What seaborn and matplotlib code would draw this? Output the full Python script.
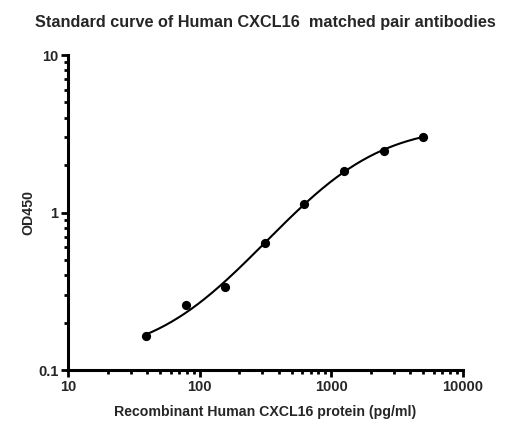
import numpy as np
import pandas as pd
import matplotlib
matplotlib.use("Agg")
import matplotlib.pyplot as plt
import matplotlib.ticker as mticker
import seaborn as sns

# standard points
conc = [39.06, 78.13, 156.25, 312.5, 625, 1250, 2500, 5000]
od450 = [0.165, 0.259, 0.335, 0.64, 1.127, 1.84, 2.47, 3.03]

x_ticks = [10, 100, 1000, 10000]
x_tick_labels = ["10", "100", "1000", "10000"]
y_ticks = [0.1, 1, 10]
y_tick_labels = ["0.1", "1", "10"]


def fit_4pl(x, y):
    # grid over EC50 and hill slope, bottom/top solved by least squares
    x = np.asarray(x, float)
    y = np.asarray(y, float)
    logc = np.linspace(2.0, 4.5, 301)[:, None, None]
    b = np.linspace(0.5, 3.0, 301)[None, :, None]
    g = 1.0 / (1.0 + (x[None, None, :] / 10 ** logc) ** b)
    gm = g.mean(axis=2, keepdims=True)
    ym = y.mean()
    k = ((g - gm) * (y - ym)).sum(axis=2, keepdims=True) / ((g - gm) ** 2).sum(axis=2, keepdims=True)
    top = ym - k * gm
    sse = ((top + k * g - y) ** 2).sum(axis=2)
    i, j = np.unravel_index(np.argmin(sse), sse.shape)
    c_best = 10 ** logc[i, 0, 0]
    b_best = b[0, j, 0]
    top_best = top[i, j, 0]
    bottom_best = top_best + k[i, j, 0]
    return bottom_best, top_best, c_best, b_best


def main():
    sns.set_theme(style="ticks")
    plt.rcParams["font.family"] = ["Liberation Sans", "DejaVu Sans"]
    plt.rcParams["font.weight"] = "bold"

    df = pd.DataFrame({"conc": conc, "od": od450})

    bottom, top, ec50, hill = fit_4pl(conc, od450)
    xs = np.logspace(np.log10(conc[0]), np.log10(conc[-1]), 300)
    curve = pd.DataFrame({"conc": xs,
                          "od": top + (bottom - top) / (1 + (xs / ec50) ** hill)})

    fig = plt.figure(figsize=(5.12, 4.37), dpi=100)
    ax = fig.add_axes([0.1334, 0.1533, 0.7703, 0.7208])

    sns.lineplot(data=curve, x="conc", y="od", ax=ax, color="black", linewidth=1.5)
    sns.scatterplot(data=df, x="conc", y="od", ax=ax, color="black", s=44,
                    edgecolor="black", linewidth=0, zorder=3)

    ax.set_xscale("log")
    ax.set_yscale("log")
    ax.set_xlim(10, 10000)
    ax.set_ylim(0.1, 10)

    ax.set_xticks(x_ticks)
    ax.set_xticklabels(x_tick_labels, fontsize=10.5, fontweight="bold")
    ax.set_yticks(y_ticks)
    ax.set_yticklabels(y_tick_labels, fontsize=10.5, fontweight="bold")
    ax.xaxis.set_minor_locator(mticker.LogLocator(base=10, subs=np.arange(2, 10)))
    ax.yaxis.set_minor_locator(mticker.LogLocator(base=10, subs=np.arange(2, 10)))
    ax.xaxis.set_minor_formatter(mticker.NullFormatter())
    ax.yaxis.set_minor_formatter(mticker.NullFormatter())

    ax.tick_params(which="major", length=5, width=2, color="black", pad=2)
    ax.tick_params(which="minor", length=3, width=2, color="black")

    sns.despine(ax=ax)
    for side in ["left", "bottom"]:
        ax.spines[side].set_linewidth(2.2)
        ax.spines[side].set_color("black")

    ax.set_xlabel("Recombinant Human CXCL16 protein (pg/ml)", fontsize=10.2,
                  fontweight="bold", labelpad=8)
    ax.set_ylabel("OD450", fontsize=10.2, fontweight="bold", labelpad=2)

    fig.text(0.518, 0.948, "Standard curve of Human CXCL16  matched pair antibodies",
             ha="center", va="center", fontsize=11.7, fontweight="bold")

    fig.savefig("out.png", dpi=100, facecolor="white")
    plt.close(fig)


if __name__ == "__main__":
    main()
